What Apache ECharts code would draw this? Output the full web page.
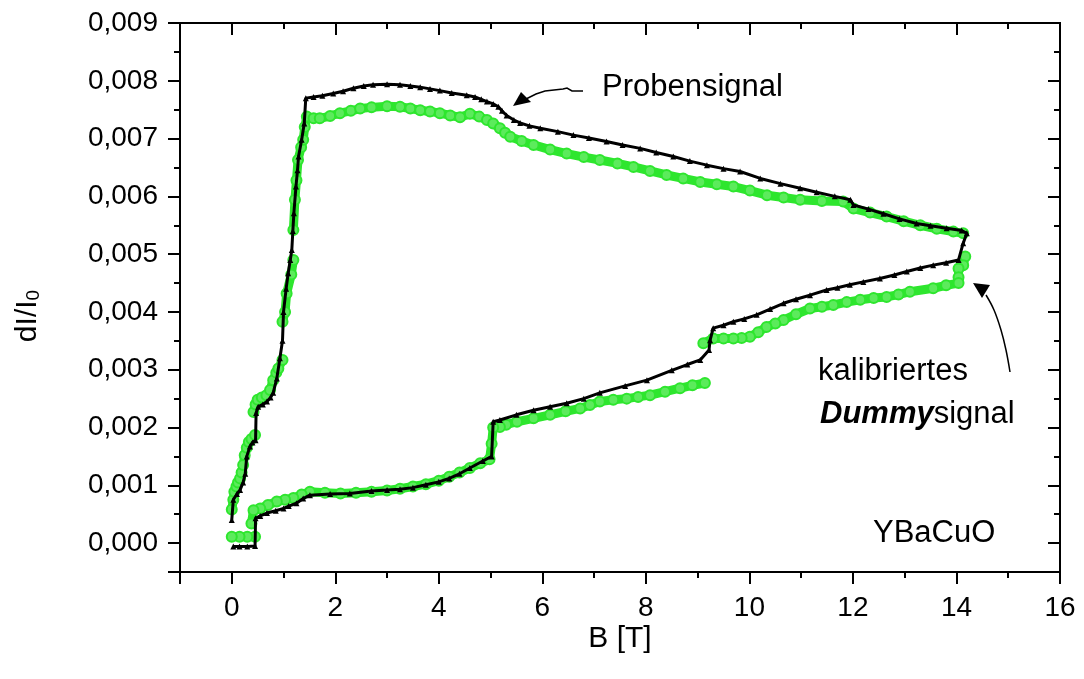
<!DOCTYPE html>
<html lang="de">
<head>
    <meta charset="utf-8" />
    <title>dI/I0 vs B</title>
    <style>
        html,
        body {
            margin: 0;
            background: #fff;
        }
    </style>
</head>
<body>
    <div id="main" style="width: 1084px;height:679px;"></div>
    <script src="https://cdn.jsdelivr.net/npm/echarts/dist/echarts.min.js"></script>
    <script type="text/javascript">
        // Probensignal (black), field up then down: [B, dI/I0]
        var probeUp = [
            [0.00, 0.00040], [0.03, 0.00075], [0.10, 0.00085], [0.16, 0.00092], [0.22, 0.00105],
            [0.26, 0.00120], [0.29, 0.00150], [0.35, 0.00167], [0.40, 0.00174], [0.46, 0.00178],
            [0.47, 0.00225], [0.51, 0.00236], [0.60, 0.00240], [0.68, 0.00245], [0.75, 0.00252],
            [0.80, 0.00260], [0.87, 0.00285], [0.93, 0.00320], [0.98, 0.00350], [1.00, 0.00400],
            [1.05, 0.00440], [1.09, 0.00467], [1.13, 0.00490], [1.16, 0.00507], [1.18, 0.00540],
            [1.20, 0.00571], [1.24, 0.00617], [1.27, 0.00645], [1.29, 0.00669], [1.35, 0.00698],
            [1.40, 0.00726], [1.43, 0.00770], [1.58, 0.00772], [1.75, 0.00774], [1.96, 0.00778],
            [2.15, 0.00782], [2.35, 0.00787], [2.55, 0.00791], [2.73, 0.00793], [3.00, 0.00794],
            [3.25, 0.00793], [3.45, 0.00791], [3.64, 0.00789], [3.83, 0.00786], [4.02, 0.00783],
            [4.25, 0.00779], [4.54, 0.00775], [4.70, 0.00772], [4.82, 0.00768], [4.93, 0.00764],
            [5.05, 0.00760], [5.15, 0.00755], [5.22, 0.00748], [5.31, 0.00740], [5.45, 0.00732],
            [5.57, 0.00727], [5.75, 0.00722], [5.96, 0.00718], [6.30, 0.00712], [6.60, 0.00706],
            [6.90, 0.00701], [7.24, 0.00695], [7.55, 0.00689], [7.89, 0.00683], [8.20, 0.00676],
            [8.53, 0.00669], [8.85, 0.00661], [9.18, 0.00654], [9.50, 0.00648], [9.82, 0.00643],
            [10.21, 0.00631], [10.60, 0.00622], [10.98, 0.00614], [11.30, 0.00607], [11.65, 0.00600],
            [11.95, 0.00594], [12.01, 0.00585], [12.30, 0.00578], [12.59, 0.00570], [12.90, 0.00561],
            [13.23, 0.00553], [13.50, 0.00549], [13.81, 0.00545], [14.10, 0.00541], [14.20, 0.00536]
        ];
        var probeDown = [
            [14.13, 0.00519], [14.04, 0.00490], [13.80, 0.00485], [13.55, 0.00481], [13.30, 0.00476],
            [13.04, 0.00470], [12.80, 0.00464], [12.52, 0.00458], [12.20, 0.00452], [11.94, 0.00447],
            [11.70, 0.00442], [11.49, 0.00438], [11.17, 0.00429], [10.90, 0.00422], [10.66, 0.00415],
            [10.40, 0.00405], [10.14, 0.00395], [9.90, 0.00388], [9.69, 0.00383], [9.50, 0.00377],
            [9.30, 0.00372], [9.24, 0.00351], [9.22, 0.00334], [9.05, 0.00317], [8.80, 0.00309],
            [8.50, 0.00299], [8.02, 0.00282], [7.60, 0.00272], [7.11, 0.00260], [6.80, 0.00250],
            [6.47, 0.00242], [6.15, 0.00236], [5.83, 0.00230], [5.50, 0.00222], [5.18, 0.00213],
            [5.05, 0.00210], [5.02, 0.00150], [4.85, 0.00142], [4.60, 0.00130], [4.40, 0.00120],
            [4.20, 0.00112], [4.00, 0.00106], [3.75, 0.00101], [3.50, 0.00096], [3.25, 0.00093],
            [3.00, 0.00092], [2.70, 0.00090], [2.28, 0.00086], [1.90, 0.00085], [1.51, 0.00083],
            [1.38, 0.00077], [1.25, 0.00069], [1.10, 0.00064], [1.00, 0.00060], [0.85, 0.00056],
            [0.68, 0.00052], [0.55, 0.00047], [0.46, 0.00043], [0.45, -0.00005], [0.30, -0.00006],
            [0.15, -0.00006], [0.03, -0.00006]
        ];

        // kalibriertes Dummysignal (green); null = gap in the trace
        var dummyUp = [
            [0.00, 0.00058], [0.03, 0.00075], [0.05, 0.00089], [0.09, 0.00098], [0.12, 0.00105],
            [0.16, 0.00112], [0.19, 0.00122], [0.22, 0.00135], [0.25, 0.00152], [0.29, 0.00165],
            [0.33, 0.00175], [0.38, 0.00180], [0.45, 0.00187], null,
            [0.42, 0.00227], [0.46, 0.00240], [0.50, 0.00248], [0.58, 0.00252], [0.67, 0.00256],
            [0.74, 0.00265], [0.80, 0.00282], [0.86, 0.00295], [0.90, 0.00302], [0.98, 0.00317], null,
            [0.98, 0.00383], [1.03, 0.00400], [1.06, 0.00432], [1.15, 0.00465], [1.19, 0.00490], null,
            [1.19, 0.00542], [1.22, 0.00594], [1.25, 0.00628], [1.28, 0.00663], [1.34, 0.00685],
            [1.38, 0.00698], [1.41, 0.00720], [1.45, 0.00738], [1.58, 0.00735], [1.70, 0.00735],
            [1.90, 0.00739], [2.09, 0.00744], [2.30, 0.00748], [2.48, 0.00752], [2.70, 0.00754],
            [3.00, 0.00756], [3.25, 0.00755], [3.45, 0.00752], [3.64, 0.00749], [3.83, 0.00747],
            [4.02, 0.00744], [4.22, 0.00740], [4.41, 0.00737], [4.60, 0.00743], [4.78, 0.00738],
            [4.93, 0.00732], [5.05, 0.00726], [5.18, 0.00718], [5.28, 0.00710], [5.38, 0.00703],
            [5.60, 0.00696], [5.83, 0.00689], [6.15, 0.00681], [6.47, 0.00674], [6.80, 0.00668],
            [7.11, 0.00663], [7.45, 0.00657], [7.76, 0.00651], [8.08, 0.00644], [8.40, 0.00637],
            [8.72, 0.00631], [9.05, 0.00625], [9.37, 0.00621], [9.69, 0.00617], [10.01, 0.00610],
            [10.34, 0.00602], [10.66, 0.00598], [10.98, 0.00594], [11.40, 0.00592], [11.81, 0.00591],
            [12.01, 0.00579], [12.33, 0.00572], [12.65, 0.00565], [12.98, 0.00557], [13.30, 0.00550],
            [13.62, 0.00544], [13.94, 0.00539], [14.13, 0.00536], null,
            [14.17, 0.00496], [14.13, 0.00481], [14.04, 0.00475], [14.04, 0.00460]
        ];
        var dummyDown = [
            [14.04, 0.00450], [13.80, 0.00446], [13.55, 0.00441], [13.10, 0.00435], [12.88, 0.00430],
            [12.65, 0.00426], [12.40, 0.00424], [12.14, 0.00421], [11.88, 0.00417], [11.62, 0.00412],
            [11.40, 0.00409], [11.17, 0.00406], [10.90, 0.00396], [10.66, 0.00386], [10.50, 0.00380],
            [10.33, 0.00374], [10.17, 0.00365], [10.01, 0.00357], [9.85, 0.00355], [9.69, 0.00354],
            [9.50, 0.00354], [9.30, 0.00354], [9.11, 0.00346], null,
            [9.14, 0.00277], [8.90, 0.00273], [8.66, 0.00268], [8.37, 0.00262], [8.08, 0.00256],
            [7.85, 0.00253], [7.63, 0.00250], [7.37, 0.00248], [7.11, 0.00245], [6.92, 0.00239],
            [6.73, 0.00233], [6.45, 0.00228], [6.15, 0.00222], [5.83, 0.00216], [5.51, 0.00210],
            [5.30, 0.00205], [5.18, 0.00201], [5.05, 0.00200], [5.02, 0.00172], [4.98, 0.00145],
            [4.80, 0.00138], [4.60, 0.00130], [4.40, 0.00122], [4.20, 0.00115], [4.00, 0.00108],
            [3.75, 0.00102], [3.50, 0.00098], [3.25, 0.00094], [3.00, 0.00091], [2.70, 0.00089],
            [2.40, 0.00087], [2.10, 0.00086], [1.80, 0.00087], [1.51, 0.00089], [1.35, 0.00084],
            [1.19, 0.00078], [1.03, 0.00075], [0.87, 0.00072], [0.70, 0.00066], [0.55, 0.00060],
            [0.42, 0.00057], [0.38, 0.00034], null,
            [0.45, 0.00011], [0.30, 0.00011], [0.15, 0.00011], [0.00, 0.00011]
        ];

        var xRange = [-1, 16];
        var yRange = [-0.0005, 0.009];
        var xMajor = [0, 2, 4, 6, 8, 10, 12, 14, 16];
        var yMajor = [0, 0.001, 0.002, 0.003, 0.004, 0.005, 0.006, 0.007, 0.008, 0.009];

        var font = '"Liberation Sans", Arial, sans-serif';
        var green = '#2ee62e';

        var plotL = 180, plotR = 1060, plotT = 23, plotB = 572;
        var W = 1084, H = 679;
        var frame = { left: plotL, right: W - plotR, top: plotT, bottom: H - plotB };

        function splitGaps(arr) {
            var out = [[]];
            arr.forEach(function (p) {
                if (p === null) out.push([]);
                else out[out.length - 1].push(p);
            });
            return out;
        }

        var series = [];
        splitGaps(dummyUp).concat(splitGaps(dummyDown)).forEach(function (seg) {
            series.push({
                type: 'line',
                data: seg,
                symbol: 'circle',
                symbolSize: 10,
                itemStyle: { color: '#5ceb5c', borderColor: green, borderWidth: 2 },
                lineStyle: { color: green, width: 9 },
                z: 2
            });
        });
        series.push({
            type: 'line',
            data: probeUp.concat(probeDown),
            symbol: 'triangle',
            symbolSize: 6,
            itemStyle: { color: '#000' },
            lineStyle: { color: '#000', width: 3 },
            z: 3
        });

        var line = { show: true, onZero: false, lineStyle: { color: '#000', width: 2 } };
        function ticks(len, inside) {
            return { show: true, inside: inside, length: len, lineStyle: { color: '#000', width: 2 } };
        }
        var off = { show: false };

        // major axes: nice ticks (step 2 / 0.001) chosen by ECharts, no fixed interval
        function xMajorAxis(pos, withLabels) {
            return {
                gridIndex: 0, type: 'value', min: xRange[0], max: xRange[1], splitNumber: 8, position: pos,
                axisLine: line, axisTick: ticks(12, pos === 'top'), splitLine: off,
                axisLabel: withLabels
                    ? { customValues: xMajor, color: '#000', fontFamily: font, fontSize: 28, margin: 22 }
                    : off
            };
        }
        function yMajorAxis(pos, withLabels) {
            return {
                gridIndex: 0, type: 'value', min: yRange[0], max: yRange[1], splitNumber: 9, position: pos,
                axisLine: line, axisTick: ticks(12, pos === 'right'), splitLine: off,
                axisLabel: withLabels
                    ? {
                        customValues: yMajor, color: '#000', fontFamily: font, fontSize: 28, margin: 22,
                        formatter: function (v) { return (+v).toFixed(3).replace('.', ','); }
                    }
                    : off
            };
        }
        function minorAxis(range, step, pos, inside) {
            return {
                gridIndex: 1, type: 'value', min: range[0], max: range[1], interval: step, position: pos,
                axisLine: line, axisTick: ticks(6, inside), axisLabel: off, splitLine: off
            };
        }

        var chart = echarts.init(document.getElementById('main'));
        chart.setOption({
            animation: false,
            backgroundColor: '#fff',
            // grid 0: data + labelled major ticks, grid 1: same frame, minor ticks
            grid: [frame, frame],
            xAxis: [
                xMajorAxis('bottom', true),
                xMajorAxis('top', false),
                minorAxis(xRange, 1, 'bottom', false),
                minorAxis(xRange, 1, 'top', true)
            ],
            yAxis: [
                yMajorAxis('left', true),
                yMajorAxis('right', false),
                minorAxis(yRange, 0.0005, 'left', false),
                minorAxis(yRange, 0.0005, 'right', true)
            ],
            series: series,
            graphic: [
                { type: 'text', x: 620, y: 639,
                  style: { text: 'B [T]', font: '30px ' + font, fill: '#000', align: 'center', verticalAlign: 'middle' } },
                { type: 'text', x: 28, y: 316, rotation: Math.PI / 2,
                  style: {
                      text: '{a|dI/I}{b|0}', fill: '#000', align: 'center', verticalAlign: 'middle',
                      rich: {
                          a: { fontFamily: font, fontSize: 30, fill: '#000' },
                          b: { fontFamily: font, fontSize: 19, fill: '#000', verticalAlign: 'bottom', padding: [10, 0, 0, 0] }
                      }
                  } },
                { type: 'text', x: 602, y: 87,
                  style: { text: 'Probensignal', font: '31px ' + font, fill: '#000', align: 'left', verticalAlign: 'middle' } },
                { type: 'text', x: 818, y: 371,
                  style: { text: 'kalibriertes', font: '31px ' + font, fill: '#000', align: 'left', verticalAlign: 'middle' } },
                { type: 'text', x: 820, y: 414,
                  style: {
                      text: '{d|Dummy}{s|signal}', align: 'left', verticalAlign: 'middle',
                      rich: {
                          d: { fontFamily: font, fontSize: 31, fontWeight: 'bold', fontStyle: 'italic', fill: '#000' },
                          s: { fontFamily: font, fontSize: 31, fill: '#000' }
                      }
                  } },
                { type: 'text', x: 873, y: 533,
                  style: { text: 'YBaCuO', font: '31px ' + font, fill: '#000', align: 'left', verticalAlign: 'middle' } },
                // arrow to Probensignal
                { type: 'polyline',
                  shape: { points: [[583, 91], [572, 91], [567, 88], [563, 89], [545, 91], [536, 94], [526, 99]] },
                  style: { stroke: '#000', lineWidth: 1.5, fill: null } },
                { type: 'polygon',
                  shape: { points: [[513, 106], [521, 92], [531, 102]] },
                  style: { fill: '#000' } },
                // arrow to Dummysignal
                { type: 'polyline',
                  shape: { points: [[1010, 372], [1006, 350], [1001, 330], [994, 310], [986, 295]], smooth: 0.4 },
                  style: { stroke: '#000', lineWidth: 1.5, fill: null } },
                { type: 'polygon',
                  shape: { points: [[973, 283], [990, 285], [982, 298]] },
                  style: { fill: '#000' } }
            ]
        });
    </script>
</body>
</html>
